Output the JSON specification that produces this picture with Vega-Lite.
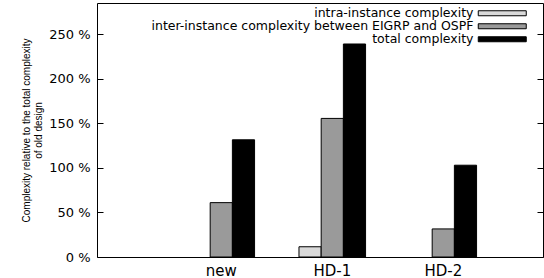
{
  "$schema": "https://vega.github.io/schema/vega-lite/v6.json",
  "width": 446,
  "height": 254,
  "autosize": {"type": "none"},
  "padding": {"left": 97, "top": 3, "right": 1, "bottom": 21},
  "background": "white",
  "config": {
    "view": {"stroke": "black", "strokeWidth": 1},
    "font": "DejaVu Sans"
  },
  "data": {
    "values": [
      {"design": "new", "metric": "inter-instance complexity between EIGRP and OSPF", "value": 61},
      {"design": "new", "metric": "total complexity", "value": 131.5},
      {"design": "HD-1", "metric": "intra-instance complexity", "value": 11.5},
      {"design": "HD-1", "metric": "inter-instance complexity between EIGRP and OSPF", "value": 155.5},
      {"design": "HD-1", "metric": "total complexity", "value": 239},
      {"design": "HD-2", "metric": "inter-instance complexity between EIGRP and OSPF", "value": 31.5},
      {"design": "HD-2", "metric": "total complexity", "value": 103}
    ]
  },
  "layer": [
    {
      "mark": {"type": "bar", "stroke": "black", "strokeWidth": 1},
      "encoding": {
        "x": {
          "field": "design", "type": "nominal", "sort": ["new", "HD-1", "HD-2"],
          "scale": {"paddingInner": 0.4, "paddingOuter": 0.709, "align": 0.578},
          "axis": {"title": null, "ticks": false, "domain": false, "labelAngle": 0, "labelFont": "DejaVu Sans", "labelFontSize": 15, "labelColor": "black", "labelPadding": 6}
        },
        "xOffset": {
          "field": "metric", "type": "nominal",
          "scale": {"domain": ["intra-instance complexity", "inter-instance complexity between EIGRP and OSPF", "total complexity"], "paddingInner": 0, "paddingOuter": 0}
        },
        "y": {
          "field": "value", "type": "quantitative",
          "scale": {"domain": [0, 285], "nice": false, "zero": true},
          "axis": {
            "values": [0, 50, 100, 150, 200, 250],
            "labelExpr": "datum.value + ' %'",
            "tickSize": -6, "tickColor": "black", "labelPadding": 13,
            "domain": false, "grid": false,
            "labelFont": "DejaVu Sans", "labelFontSize": 13, "labelColor": "black",
            "title": ["Complexity relative to the total complexity", "of old design"],
            "titleFont": "Liberation Sans", "titleFontSize": 10, "titleFontWeight": "normal", "titleColor": "black", "titleLineHeight": 12, "titlePadding": 5
          }
        },
        "fill": {
          "field": "metric", "type": "nominal",
          "scale": {"domain": ["intra-instance complexity", "inter-instance complexity between EIGRP and OSPF", "total complexity"], "range": ["#d9d9d9", "#9a9a9a", "#000000"]},
          "legend": {
            "orient": "none", "legendX": 399, "legendY": 4, "title": null, "direction": "vertical",
            "symbolType": "M-6,-0.625H6V0.625H-6Z", "symbolSize": 64, "symbolStrokeColor": "black", "symbolStrokeWidth": 1, "symbolOpacity": 1,
            "symbolOffset": 0, "labelAlign": "right", "labelOffset": -35,
            "labelFont": "DejaVu Sans", "labelFontSize": 12.5, "labelColor": "black",
            "rowPadding": -3, "padding": 0, "labelLimit": 400
          }
        }
      }
    },
    {
      "mark": {"type": "bar", "fill": "transparent", "strokeWidth": 0},
      "encoding": {
        "x": {"field": "design", "type": "nominal", "sort": ["new", "HD-1", "HD-2"]},
        "xOffset": {"field": "metric", "type": "nominal"},
        "y": {
          "field": "value", "type": "quantitative",
          "axis": {"orient": "right", "values": [0, 50, 100, 150, 200, 250], "labels": false, "tickSize": -6, "tickColor": "black", "domain": false, "grid": false, "title": null}
        }
      }
    }
  ],
  "resolve": {"axis": {"y": "independent"}}
}
